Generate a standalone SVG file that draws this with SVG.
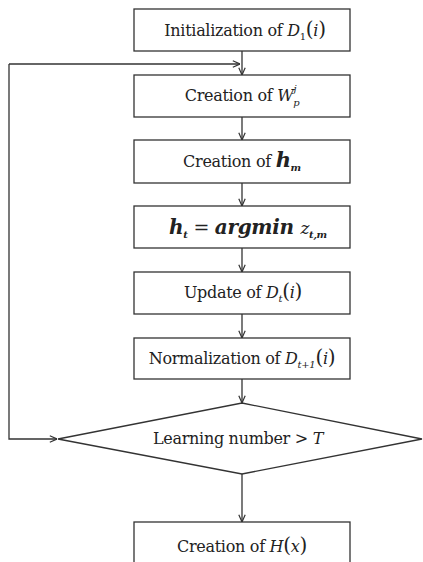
<svg xmlns="http://www.w3.org/2000/svg" width="423" height="562" viewBox="0 0 423 562">
<style>
.box{fill:#fff;stroke:#333;stroke-width:1.3}
.t{font-family:'DejaVu Serif',serif;font-size:16px;fill:#222;text-anchor:middle;letter-spacing:-0.3px}
.i{font-style:italic}
.bi{font-style:italic;font-weight:bold}
.sub{font-size:10px}
.par{font-size:20px}
.conn{fill:none;stroke:#333;stroke-width:1.3}
</style>
<defs>
<marker id="arr" viewBox="0 0 10 10" refX="10" refY="5" markerWidth="8" markerHeight="8" markerUnits="userSpaceOnUse" orient="auto">
<path d="M1,1 L10,5 L1,9" fill="none" stroke="#333" stroke-width="1.5"/>
</marker>
</defs>
<rect width="423" height="562" fill="#fff"/>
<g id="connectors">
<path class="conn" d="M242,51 V75" marker-end="url(#arr)"/>
<path class="conn" d="M242,117 V140" marker-end="url(#arr)"/>
<path class="conn" d="M242,183 V206" marker-end="url(#arr)"/>
<path class="conn" d="M242,248 V272" marker-end="url(#arr)"/>
<path class="conn" d="M242,314 V338" marker-end="url(#arr)"/>
<path class="conn" d="M242,379 V403" marker-end="url(#arr)"/>
<path class="conn" d="M242,474 V522" marker-end="url(#arr)"/>
<path class="conn" d="M9,64 V439 H57" marker-end="url(#arr)"/>
<path class="conn" d="M9,64 H240" marker-end="url(#arr)"/>
</g>
<g id="init">
<rect class="box" x="134" y="9" width="216" height="42"/>
<text class="t" x="245" y="36">Initialization of <tspan class="i">D</tspan><tspan class="sub" dy="4">1</tspan><tspan class="par" dy="-4">(</tspan><tspan class="i">i</tspan><tspan class="par">)</tspan></text>
</g>
<g id="creation-w">
<rect class="box" x="134" y="75" width="216" height="42"/>
<text class="t" x="242" y="101">Creation of <tspan class="i">W</tspan><tspan class="sub i" dy="-9">j</tspan><tspan class="sub i" dx="-3" dy="14">p</tspan></text>
</g>
<g id="creation-h">
<rect class="box" x="134" y="140" width="216" height="43"/>
<text class="t" x="242" y="167">Creation of <tspan class="bi" font-size="21">h</tspan><tspan class="sub bi" dy="4">m</tspan></text>
</g>
<g id="argmin">
<rect class="box" x="134" y="206" width="216" height="42"/>
<text class="t" x="248" y="234"><tspan class="bi" font-size="20">h</tspan><tspan class="sub bi" dy="4">t</tspan><tspan dy="-4" font-size="19"> = </tspan><tspan class="bi" font-size="20">argmin </tspan><tspan class="i" font-size="17">z</tspan><tspan class="sub bi" dy="4">t,m</tspan></text>
</g>
<g id="update">
<rect class="box" x="134" y="272" width="216" height="42"/>
<text class="t" x="243" y="298">Update of  <tspan class="i">D</tspan><tspan class="sub i" dy="4">t</tspan><tspan class="par" dy="-4">(</tspan><tspan class="i">i</tspan><tspan class="par">)</tspan></text>
</g>
<g id="normalize">
<rect class="box" x="134" y="338" width="216" height="41"/>
<text class="t" x="242" y="364">Normalization of  <tspan class="i">D</tspan><tspan class="sub i" dy="4">t+1</tspan><tspan class="par" dy="-4">(</tspan><tspan class="i">i</tspan><tspan class="par">)</tspan></text>
</g>
<g id="decision">
<polygon class="box" points="242,403 422,439 242,474 58,439"/>
<text class="t" x="238" y="444">Learning number &gt; <tspan class="i">T</tspan></text>
</g>
<g id="creation-H">
<rect class="box" x="134" y="522" width="216" height="50"/>
<text class="t" x="242" y="552">Creation of <tspan class="i">H</tspan><tspan class="par">(</tspan><tspan class="i">x</tspan><tspan class="par">)</tspan></text>
</g>
</svg>
